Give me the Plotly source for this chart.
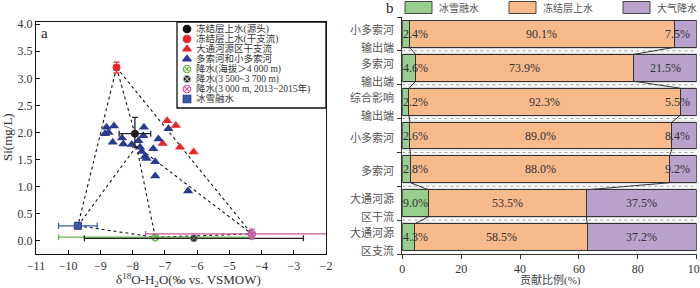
import plotly.graph_objects as go

W, H = 700, 288
SERIF = "Liberation Serif, Times New Roman, serif"
MIX = "Liberation Serif, Noto Sans CJK SC, serif"
CJK = "Noto Sans CJK SC, sans-serif"

# ---------------- Panel a data ----------------
blue_tri_x = [-8.81, -8.58, -8.86, -8.75, -8.62, -8.33, -8.29, -7.65, -7.67, -8.03,
              -7.82, -7.77, -7.72, -7.62, -7.57, -7.36, -7.20, -6.89, -7.30, -7.30, -6.28]
blue_tri_y = [2.10, 2.12, 1.98, 2.00, 1.82, 1.90, 1.79, 2.10, 1.94, 1.78,
              1.85, 1.73, 1.65, 1.56, 1.52, 1.70, 1.88, 2.07, 1.46, 1.20, 0.92]
red_tri_x = [-6.93, -6.66, -7.07, -6.53, -6.11]
red_tri_y = [2.22, 2.13, 1.80, 1.73, 1.64]

# end-members (x, y, x-err minus, x-err plus, y-err minus, y-err plus)
src = dict(x=[-7.93], y=[1.98], exm=[0.49], exp=[0.49], eym=[0.25], eyp=[0.30])      # 冻结层上水(源头)
trib = dict(x=[-8.50], y=[3.20], exm=[0.08], exp=[0.08], eym=[0.10], eyp=[0.10])     # 冻结层上水(干支流)
snowm = dict(x=[-9.70], y=[0.28], exm=[0.60], exp=[0.60])                            # 冰雪融水
p_high = dict(x=[-7.30], y=[0.07], exm=[3.00], exp=[3.00])                           # 降水 >4000 m
p_mid = dict(x=[-6.10], y=[0.05], exm=[3.40], exp=[3.40])                            # 降水 3500~3700 m
p_low = dict(x=[-4.30], y=[0.13], exm=[3.30], exp=[3.30], eym=[0.09], eyp=[0.09])    # 降水 3000 m
node = dict(x=[-7.88], y=[1.75])

mix_points = {"R": trib, "B": src, "C": node, "S": snowm, "G": p_high, "P": p_low}
mix_pairs = [("R", "S"), ("R", "B"), ("R", "P"), ("C", "S"), ("C", "G"), ("C", "P"),
             ("S", "G"), ("G", "P")]

legend_a_labels = ["冻结层上水(源头)", "冻结层上水(干支流)", "大通河源区干支流", "多索河和小多索河",
                   "降水(海拔＞4 000 m)", "降水(3 500~3 700 m)", "降水(3 000 m, 2013−2015年)", "冰雪融水"]

BLUE = "#2b3a8f"
RED = "#e8262b"
GREEN = "#6cb844"
PINK = "#c4589f"

# ---------------- Panel b data ----------------
categories = ["小多索河|输出端", "多索河|输出端", "综合影响|输出端", "小多索河", "多索河",
              "大通河源|区干流", "大通河源|区支流"]
snow_pct = [2.4, 4.6, 2.2, 2.6, 2.8, 9.0, 4.3]
supra_pct = [90.1, 73.9, 92.3, 89.0, 88.0, 53.5, 58.5]
precip_pct = [7.5, 21.5, 5.5, 8.4, 9.2, 37.5, 37.2]
series_names = ["冰雪融水", "冻结层上水", "大气降水"]
C_GREEN, C_ORANGE, C_PURPLE = "#98cf8e", "#f8b98b", "#b9a2cc"

fig = go.Figure()

# mixing lines
lx, ly = [], []
for a, b in mix_pairs:
    lx += [mix_points[a]["x"][0], mix_points[b]["x"][0], None]
    ly += [mix_points[a]["y"][0], mix_points[b]["y"][0], None]
fig.add_trace(go.Scatter(x=lx, y=ly, mode="lines", line=dict(color="#111", width=1.1, dash="dot"),
                         hoverinfo="skip", showlegend=False, xaxis="x", yaxis="y"))

def em_trace(d, symbol, color, size, lcolor=None, lwidth=1, ecolor=None):
    kw = {}
    if "exm" in d:
        kw["error_x"] = dict(type="data", array=d["exp"], arrayminus=d["exm"], color=ecolor or color,
                             thickness=1.3, width=3)
    if "eym" in d:
        kw["error_y"] = dict(type="data", array=d["eyp"], arrayminus=d["eym"], color=ecolor or color,
                             thickness=1.3, width=3)
    return go.Scatter(x=d["x"], y=d["y"], mode="markers",
                      marker=dict(symbol=symbol, color=color, size=size,
                                  line=dict(color=lcolor or color, width=lwidth)),
                      showlegend=False, xaxis="x", yaxis="y", cliponaxis=False, **kw)

fig.add_trace(em_trace(p_high, "circle-x-open", GREEN, 7, lwidth=1.5))
fig.add_trace(em_trace(p_mid, "circle-x", "#222", 7, lcolor="#888", lwidth=1))
fig.add_trace(em_trace(p_low, "circle-x-open", PINK, 7, lwidth=1.5))
fig.add_trace(em_trace(snowm, "square", "#3d5aa8", 7, lcolor=BLUE, ecolor="#3d5aa8"))

fig.add_trace(go.Scatter(x=red_tri_x, y=red_tri_y, mode="markers",
                         marker=dict(symbol="triangle-up", color=RED, size=9),
                         showlegend=False, xaxis="x", yaxis="y"))
fig.add_trace(go.Scatter(x=blue_tri_x, y=blue_tri_y, mode="markers",
                         marker=dict(symbol="triangle-up", color=BLUE, size=9),
                         showlegend=False, xaxis="x", yaxis="y"))
fig.add_trace(em_trace(trib, "circle", RED, 7))
fig.add_trace(em_trace(src, "circle", "#222", 7, lcolor="#111"))

# legend of panel a (on a hidden helper axis)
leg_sym = ["circle", "circle", "triangle-up", "triangle-up", "circle-x-open", "circle-x", "circle-x-open", "square"]
leg_col = ["#111", RED, RED, BLUE, GREEN, "#222", PINK, "#3d5aa8"]
leg_line = ["#111", RED, RED, BLUE, GREEN, "#bbb", PINK, BLUE]
leg_y = [7 + 10 * i for i in range(len(legend_a_labels))]
fig.add_trace(go.Scatter(x=[10] * len(leg_y), y=leg_y, mode="markers",
                         marker=dict(symbol=leg_sym, color=leg_col, size=7.5,
                                     line=dict(color=leg_line, width=1.2)),
                         showlegend=False, xaxis="x3", yaxis="y3", hoverinfo="skip"))

# ---------------- Panel b ----------------
ypos = list(range(len(categories)))
for vals, col, name in zip([snow_pct, supra_pct, precip_pct], [C_GREEN, C_ORANGE, C_PURPLE], series_names):
    fig.add_trace(go.Bar(x=vals, y=ypos, orientation="h", width=0.79, name=name,
                         marker=dict(color=col, line=dict(color="#333", width=1)),
                         showlegend=False, xaxis="x2", yaxis="y2"))

# series connector lines
hw = 0.395
cum1 = snow_pct
cum2 = [a + b for a, b in zip(snow_pct, supra_pct)]
cx, cy = [], []
for cum in (cum1, cum2):
    for i in range(len(categories) - 1):
        cx += [cum[i], cum[i + 1], None]
        cy += [i + hw, i + 1 - hw, None]
fig.add_trace(go.Scatter(x=cx, y=cy, mode="lines", line=dict(color="#333", width=1),
                         showlegend=False, hoverinfo="skip", xaxis="x2", yaxis="y2"))

shapes = []
annotations = []
# gap bands
for i in range(len(categories) - 1):
    b = i + 0.5
    shapes.append(dict(type="line", xref="x2", yref="y2", x0=0, x1=100, y0=b, y1=b,
                       line=dict(color="#9a9a9a", width=1, dash="dot"), layer="below"))
    for off in (-0.075, 0.075):
        shapes.append(dict(type="line", xref="x2", yref="y2", x0=0, x1=100, y0=b + off, y1=b + off,
                           line=dict(color="#cfcfcf", width=1), layer="below"))

# bar labels
lab_font = dict(family=SERIF, size=12, color="#333")
for i in range(len(categories)):
    annotations.append(dict(x=0, y=i, xref="x2", yref="y2", text=f"{snow_pct[i]:.1f}%",
                            xanchor="left", yanchor="middle", xshift=-1, showarrow=False, font=lab_font))
    annotations.append(dict(x=snow_pct[i] + supra_pct[i] / 2, y=i, xref="x2", yref="y2",
                            text=f"{supra_pct[i]:.1f}%", xanchor="center", yanchor="middle",
                            showarrow=False, font=lab_font))
    pc = min(cum2[i] + precip_pct[i] / 2, 93.5)
    annotations.append(dict(x=pc, y=i, xref="x2", yref="y2", text=f"{precip_pct[i]:.1f}%",
                            xanchor="center", yanchor="middle", showarrow=False, font=lab_font))

# category labels
cat_font = dict(family=CJK, size=11, color="#555")
for i, c in enumerate(categories):
    parts = c.split("|")
    if len(parts) == 1:
        annotations.append(dict(x=0, y=i, xref="x2 domain", yref="y2", text=parts[0], xanchor="right",
                                yanchor="middle", xshift=-6, yshift=-1, showarrow=False, font=cat_font))
    else:
        annotations.append(dict(x=0, y=i, xref="x2 domain", yref="y2", text=parts[0], xanchor="right",
                                yanchor="middle", xshift=-6, yshift=5, showarrow=False, font=cat_font))
        annotations.append(dict(x=0, y=i, xref="x2 domain", yref="y2", text=parts[1], xanchor="right",
                                yanchor="middle", xshift=-6, yshift=-13, showarrow=False, font=cat_font))

# legend b
leg_b_x = [405, 509, 623]
for x0, col, name in zip(leg_b_x, [C_GREEN, C_ORANGE, C_PURPLE], series_names):
    shapes.append(dict(type="rect", xref="paper", yref="paper", x0=x0 / W, x1=(x0 + 27) / W,
                       y0=1 - 13.5 / H, y1=1 - 1.5 / H, fillcolor=col, line=dict(color="#444", width=1)))
    annotations.append(dict(x=(x0 + 32) / W, y=1 - 7.5 / H, xref="paper", yref="paper", text=name,
                            xanchor="left", yanchor="middle", showarrow=False,
                            font=dict(family=CJK, size=10, color="#555")))

# legend a box + texts
shapes.append(dict(type="rect", xref="paper", yref="paper", x0=177 / W, x1=326 / W,
                   y0=1 - 108 / H, y1=1 - 22 / H, fillcolor="white", line=dict(color="#111", width=1.3),
                   layer="below"))
for yy, t in zip(leg_y, legend_a_labels):
    annotations.append(dict(x=17, y=yy, xref="x3", yref="y3", text=t, xanchor="left", yanchor="middle",
                            showarrow=False, font=dict(family=MIX, size=9.5, color="#333")))

# panel labels and axis titles
annotations += [
    dict(x=45 / W, y=1 - 33 / H, xref="paper", yref="paper", text="a", showarrow=False,
         xanchor="center", yanchor="middle", font=dict(family=SERIF, size=15, color="#222")),
    dict(x=390 / W, y=1 - 8 / H, xref="paper", yref="paper", text="b", showarrow=False,
         xanchor="center", yanchor="middle", font=dict(family=SERIF, size=15, color="#222")),
    dict(x=7 / W, y=1 - 137 / H, xref="paper", yref="paper", text="Si(mg/L)", textangle=-90,
         xanchor="center", yanchor="middle", showarrow=False, font=dict(family=SERIF, size=13, color="#333")),
    dict(x=188 / W, y=1 - 280 / H, xref="paper", yref="paper",
         text="δ<sup>18</sup>O-H<sub>2</sub>O(‰ vs. VSMOW)", showarrow=False,
         xanchor="center", yanchor="middle", font=dict(family=SERIF, size=13, color="#333")),
    dict(x=550 / W, y=1 - 280 / H, xref="paper", yref="paper", text="贡献比例(%)", showarrow=False,
         xanchor="center", yanchor="middle", font=dict(family=MIX, size=11, color="#444")),
]

tick_font = dict(family=SERIF, size=12, color="#333")
fig.update_layout(
    width=W, height=H, margin=dict(l=0, r=0, t=0, b=0, autoexpand=False),
    paper_bgcolor="white", plot_bgcolor="rgba(0,0,0,0)",
    barmode="stack", showlegend=False,
    shapes=shapes, annotations=annotations,
    xaxis=dict(domain=[36 / W, 326 / W], range=[-11, -2], dtick=1, tick0=-11, ticks="inside", ticklen=4,
               tickcolor="#111", showline=True, linecolor="#111", linewidth=1.3, mirror=True,
               showgrid=False, zeroline=False, tickfont=tick_font, anchor="y", automargin=False),
    yaxis=dict(domain=[1 - 254 / H, 1 - 22 / H], range=[-0.24, 4.04], dtick=0.5, tick0=0, tickformat=".1f",
               ticks="inside", ticklen=4, tickcolor="#111", showline=True, linecolor="#111", linewidth=1.3,
               mirror=True, showgrid=False, zeroline=False, tickfont=tick_font, anchor="x", automargin=False),
    xaxis2=dict(domain=[402.3 / W, 696.7 / W], range=[0, 100], dtick=20, tick0=0, ticks="outside",
                ticklen=4, tickcolor="#333", showline=True, linecolor="#333", linewidth=1,
                ticklabeloverflow="allow",
                showgrid=False, zeroline=False, tickfont=tick_font, anchor="y2", automargin=False),
    yaxis2=dict(domain=[1 - 254 / H, 1 - 17 / H], range=[6.5, -0.5],
                tickvals=[i - 0.5 for i in range(len(categories) + 1)], showticklabels=False,
                ticks="outside", ticklen=4, tickcolor="#333", automargin=False,
                showline=True, linecolor="#333", linewidth=1, showgrid=False, zeroline=False, anchor="x2"),
    xaxis3=dict(domain=[177 / W, 326 / W], range=[0, 149], visible=False, anchor="y3"),
    yaxis3=dict(domain=[1 - 108 / H, 1 - 22 / H], range=[86, 0], visible=False, anchor="x3"),
)

fig.write_html("out.html", config={"displayModeBar": False},
               post_script="document.body.style.margin='0';document.body.style.overflow='hidden';")
